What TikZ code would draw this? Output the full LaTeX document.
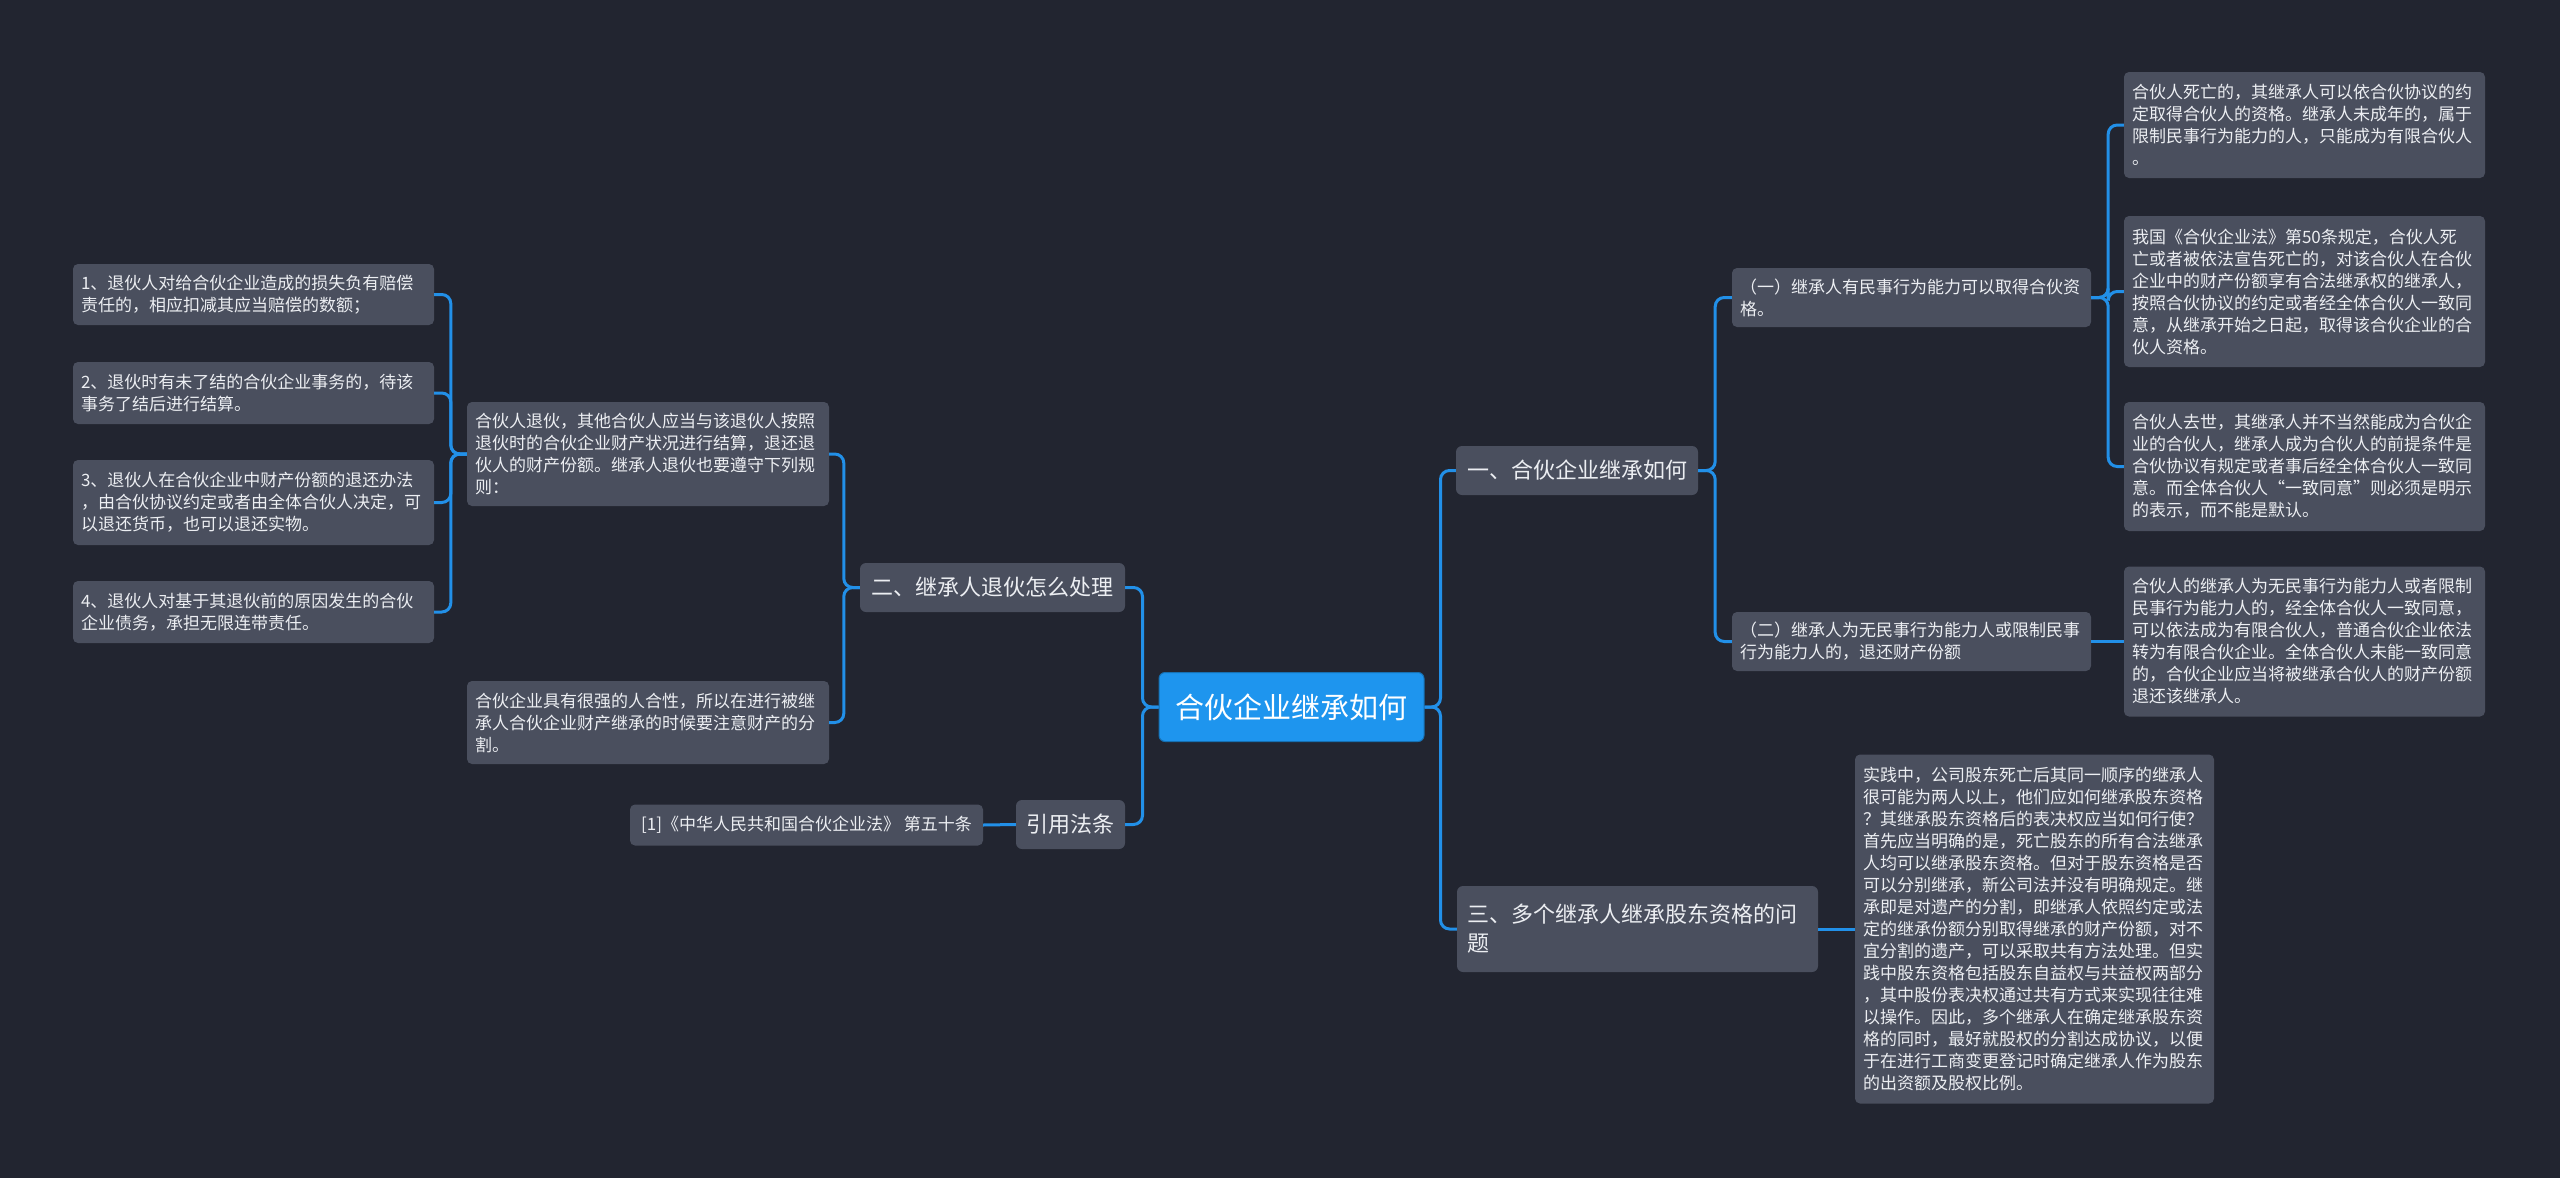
\documentclass[tikz,border=0pt]{standalone}
\usepackage{fontspec}
\setmainfont{Noto Sans CJK SC}
\definecolor{bg}{HTML}{222530}
\definecolor{boxgray}{HTML}{4A4F5E}
\definecolor{txt}{HTML}{ECEEF2}
\definecolor{linkblue}{HTML}{2290E8}
\definecolor{centerblue}{HTML}{1E95EE}
\tikzset{
  box/.style={fill=boxgray, rounded corners=5pt, text=txt, inner xsep=8pt, inner ysep=2pt, align=left, font=\fontsize{17}{22}\selectfont},
  topic/.style={fill=boxgray, rounded corners=6pt, text=txt, inner xsep=10pt, inner ysep=2pt, align=left, font=\fontsize{22}{29}\selectfont},
  root/.style={fill=centerblue, draw=centerblue!75!black, line width=1pt, rounded corners=6pt, text=white, inner sep=2pt, align=center, font=\fontsize{29}{36}\selectfont},
  conn/.style={draw=linkblue, line width=3pt, rounded corners=9pt},
}
\begin{document}
\begin{tikzpicture}[x=1pt,y=-1pt]
\fill[bg] (0,0) rectangle (2560,1178);
\useasboundingbox (0,0) rectangle (2560,1178);

% root
\node[root, minimum width=265pt, minimum height=69pt] (c) at (1291.5,707) {合伙企业继承如何};

% right side topics
\node[topic, minimum width=242pt, minimum height=49pt, align=center] (t1) at (1577,470.5) {一、合伙企业继承如何};
\node[topic, text width=341pt, minimum height=86pt] (t3) at (1637.5,929) {三、多个继承人继承股东资格的问\\题};

% left side topics
\node[topic, minimum width=265pt, minimum height=49pt, align=center] (t2) at (992.5,587.5) {二、继承人退伙怎么处理};
\node[topic, minimum width=109pt, minimum height=49pt, align=center] (t4) at (1070.5,824.5) {引用法条};

% level 2 right
\node[box, text width=343pt, minimum height=59pt] (s1) at (1911.5,297.5) {（一）继承人有民事行为能力可以取得合伙资\\格。};
\node[box, text width=343pt, minimum height=59pt] (s2) at (1911.5,641.5) {（二）继承人为无民事行为能力人或限制民事\\行为能力人的，退还财产份额};

% leaves of (一)
\node[box, text width=345pt, minimum height=106pt] (r1) at (2304.5,125) {合伙人死亡的，其继承人可以依合伙协议的约\\定取得合伙人的资格。继承人未成年的，属于\\限制民事行为能力的人，只能成为有限合伙人\\。};
\node[box, text width=345pt, minimum height=151pt] (r2) at (2304.5,291.5) {我国《合伙企业法》第50条规定，合伙人死\\亡或者被依法宣告死亡的，对该合伙人在合伙\\企业中的财产份额享有合法继承权的继承人，\\按照合伙协议的约定或者经全体合伙人一致同\\意，从继承开始之日起，取得该合伙企业的合\\伙人资格。};
\node[box, text width=345pt, minimum height=129pt] (r3) at (2304.5,466.5) {合伙人去世，其继承人并不当然能成为合伙企\\业的合伙人，继承人成为合伙人的前提条件是\\合伙协议有规定或者事后经全体合伙人一致同\\意。而全体合伙人“一致同意”则必须是明示\\的表示，而不能是默认。};
% leaf of (二)
\node[box, text width=345pt, minimum height=150pt] (r4) at (2304.5,641.5) {合伙人的继承人为无民事行为能力人或者限制\\民事行为能力人的，经全体合伙人一致同意，\\可以依法成为有限合伙人，普通合伙企业依法\\转为有限合伙企业。全体合伙人未能一致同意\\的，合伙企业应当将被继承合伙人的财产份额\\退还该继承人。};

% leaf of 三
\node[box, text width=343pt, minimum height=349pt] (r5) at (2034.5,929) {实践中，公司股东死亡后其同一顺序的继承人\\很可能为两人以上，他们应如何继承股东资格\\？其继承股东资格后的表决权应当如何行使？\\首先应当明确的是，死亡股东的所有合法继承\\人均可以继承股东资格。但对于股东资格是否\\可以分别继承，新公司法并没有明确规定。继\\承即是对遗产的分割，即继承人依照约定或法\\定的继承份额分别取得继承的财产份额，对不\\宜分割的遗产，可以采取共有方法处理。但实\\践中股东资格包括股东自益权与共益权两部分\\，其中股份表决权通过共有方式来实现往往难\\以操作。因此，多个继承人在确定继承股东资\\格的同时，最好就股权的分割达成协议，以便\\于在进行工商变更登记时确定继承人作为股东\\的出资额及股权比例。};

% level 2 left
\node[box, text width=346pt, minimum height=104pt] (m1) at (648,454) {合伙人退伙，其他合伙人应当与该退伙人按照\\退伙时的合伙企业财产状况进行结算，退还退\\伙人的财产份额。继承人退伙也要遵守下列规\\则：};
\node[box, text width=346pt, minimum height=83pt] (m2) at (648,722.5) {合伙企业具有很强的人合性，所以在进行被继\\承人合伙企业财产继承的时候要注意财产的分\\割。};
\node[box, minimum width=353pt, minimum height=41pt, align=center] (m3) at (806.5,825) {[1]《中华人民共和国合伙企业法》 第五十条};

% left leaves
\node[box, text width=345pt, minimum height=61pt] (l1) at (253.5,294.5) {1、退伙人对给合伙企业造成的损失负有赔偿\\责任的，相应扣减其应当赔偿的数额；};
\node[box, text width=345pt, minimum height=62pt] (l2) at (253.5,393) {2、退伙时有未了结的合伙企业事务的，待该\\事务了结后进行结算。};
\node[box, text width=345pt, minimum height=85pt] (l3) at (253.5,502.5) {3、退伙人在合伙企业中财产份额的退还办法\\，由合伙协议约定或者由全体合伙人决定，可\\以退还货币，也可以退还实物。};
\node[box, text width=345pt, minimum height=62pt] (l4) at (253.5,612) {4、退伙人对基于其退伙前的原因发生的合伙\\企业债务，承担无限连带责任。};

% connectors right
\foreach \t in {t1,t3} \draw[conn] (c.east) -- ++(16,0) |- (\t.west);
\foreach \t in {s1,s2} \draw[conn] (t1.east) -- ++(17,0) |- (\t.west);
\foreach \t in {r1,r2,r3} \draw[conn] (s1.east) -- ++(17,0) |- (\t.west);
\draw[conn] (s2.east) -- (r4.west);
\draw[conn] (t3.east) -- (r5.west);

% connectors left
\foreach \t in {t2,t4} \draw[conn] (c.west) -- ++(-16,0) |- (\t.east);
\foreach \t in {m1,m2} \draw[conn] (t2.west) -- ++(-16,0) |- (\t.east);
\draw[conn] (t4.west) -- (m3.east);
\foreach \t in {l1,l2,l3,l4} \draw[conn] (m1.west) -- ++(-16,0) |- (\t.east);
\end{tikzpicture}
\end{document}
